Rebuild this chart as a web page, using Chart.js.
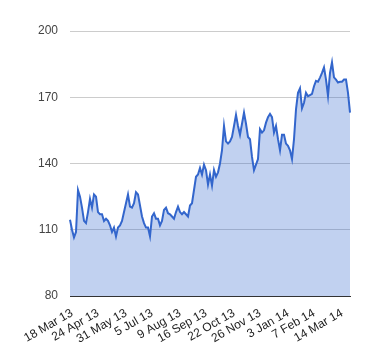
<!DOCTYPE html>
<html>
<head>
<meta charset="utf-8">
<script src="https://cdn.jsdelivr.net/npm/chart.js@4"></script>
<style>
  html, body { margin: 0; padding: 0; background: #fff; }
  #wrap { width: 380px; height: 360px; }
</style>
</head>
<body>
<div id="wrap"><canvas id="price"></canvas></div>
<script>
// Values, roughly one every 2 px of the plot
const prices = [
  114.5, 110, 106.5, 109, 128, 125, 120, 114, 113, 118,
  124, 120, 126, 125, 118, 117, 117, 114, 115, 114,
  112, 109, 111, 107, 111, 112, 114, 118, 122, 126,
  120.5, 120, 122, 127, 126, 121, 116, 113, 111, 111,
  107, 116, 117.5, 115, 115, 112, 114, 119, 120, 117.5,
  117, 116, 115, 118, 120.5, 118, 117, 118, 117, 116,
  121, 122, 128, 134, 135, 138, 135, 139.5, 137, 130.5,
  135, 130, 137, 134, 136, 140, 146, 157, 150, 149,
  150, 152, 157, 162, 157, 153, 158, 163, 158, 152,
  151, 143, 137, 139.5, 142, 155.5, 154, 155, 158.5, 161,
  162.5, 161, 154, 157, 151, 146, 153, 153, 149, 148,
  146, 142, 151, 164.5, 172, 174, 165, 167.5, 172, 170.5,
  171, 171.5, 175, 177.4, 177, 178.9, 181, 183.5, 178, 170.6,
  181, 185.8, 179, 178, 176.7, 177, 177, 178, 178, 172,
  163
]
// Tick labels and the point index each one sits on
const tickLabels = ['18 Mar 13', '24 Apr 13', '31 May 13', '5 Jul 13', '9 Aug 13',
  '16 Sep 13', '22 Oct 13', '26 Nov 13', '3 Jan 14', '7 Feb 14', '14 Mar 14']
const tickIndex = [1, 14, 28, 41, 55, 68, 82, 95, 109, 122, 136]
const yTicks = [80, 110, 140, 170, 200]

let labels = prices.map((v, i) => {
  let k = tickIndex.indexOf(i)
  return k >= 0 ? tickLabels[k] : ''
})

let canvas = document.querySelector('canvas#price')
let chart = new Chart(canvas, {
  type: 'line',
  data: {
    labels: labels,
    datasets: [{
      data: prices,
      borderColor: '#3366cc',
      borderWidth: 2,
      backgroundColor: 'rgba(51, 102, 204, 0.3)',
      fill: 'start',
      pointRadius: 0,
      tension: 0
    }]
  },
  options: {
    responsive: true,
    maintainAspectRatio: false,
    animation: false,
    layout: { padding: { left: 0, right: 30, top: 31, bottom: 0 } },
    plugins: {
      legend: { display: false },
      tooltip: { enabled: false }
    },
    scales: {
      x: {
        grid: { display: false },
        border: { color: '#333333', width: 1 },
        afterFit: (s) => { s.height = 64 },
        ticks: {
          autoSkip: false,
          minRotation: 30,
          maxRotation: 30,
          padding: 2,
          color: '#222222',
          font: { family: 'Arial, "Liberation Sans"', size: 12 },
          callback: function (val, i) { return labels[i] }
        }
      },
      y: {
        min: 80,
        max: 200,
        afterBuildTicks: (s) => { s.ticks = yTicks.map(v => ({ value: v })) },
        afterFit: (s) => { s.width = 70 },
        border: { display: false },
        grid: {
          color: (c) => c.tick && c.tick.value === 80 ? 'rgba(0,0,0,0)' : '#cccccc',
          drawTicks: false
        },
        ticks: {
          padding: 12,
          color: '#444444',
          font: { family: 'Arial, "Liberation Sans"', size: 12 }
        }
      }
    }
  }
})
</script>
</body>
</html>
